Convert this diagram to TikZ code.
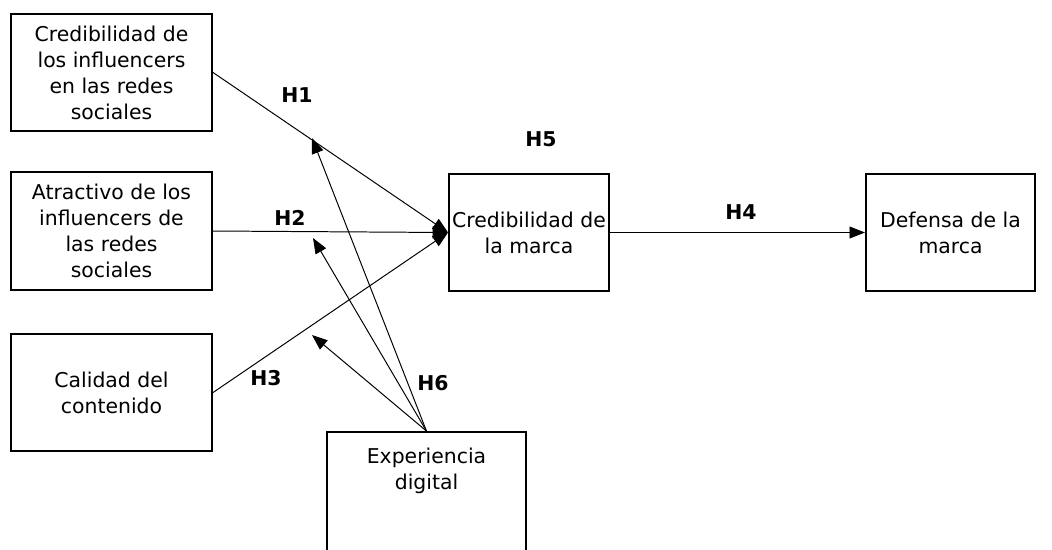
\documentclass[tikz,border=0pt]{standalone}
\usepackage{fontspec}
\setmainfont{DejaVu Sans}
\usetikzlibrary{arrows.meta}
\begin{document}
\begin{tikzpicture}[x=0.025cm,y=-0.025cm]
      \useasboundingbox (0,0) rectangle (1052,549);
      \begin{scope}[every node/.style={draw,line width=1.3pt,align=center,inner sep=2pt,
          font=\fontsize{14.5}{18.5}\selectfont}]
        \node[minimum width=5.03cm,minimum height=2.93cm] (ci) at (111.5,72.5) {Credibilidad de\\los influencers\\en las redes\\sociales};
        \node[minimum width=5.03cm,minimum height=2.93cm] (at) at (111.5,231) {Atractivo de los\\influencers de\\las redes\\sociales};
        \node[minimum width=5.03cm,minimum height=2.93cm] (ca) at (111.5,392.5) {Calidad del\\contenido};
        \node[minimum width=4cm,minimum height=2.93cm] (cm) at (529,232.5) {Credibilidad de\\la marca};
        \node[minimum width=4.23cm,minimum height=2.93cm] (dm) at (950.5,232.5) {Defensa de la\\marca};
        \node[minimum width=4.98cm,minimum height=3.05cm] (ed) at (426.5,493) {Experiencia\\digital\\[5.5mm]};
      \end{scope}
      \coordinate (t1) at (312,138);
      \coordinate (t2) at (313,238);
      \coordinate (t3) at (312,335);
      \begin{scope}[every edge/.style={draw,line width=0.7pt,-{Triangle[length=11pt,width=8.5pt]}}]
        \path (ci.east) edge (cm.west);
        \path (at.east) edge (cm.west);
        \path (ca.east) edge (cm.west);
        \path (cm.east) edge (dm.west);
        \path (ed.north) edge (t1);
        \path (ed.north) edge (t2);
        \path (ed.north) edge (t3);
      \end{scope}
      \begin{scope}[every node/.style={font=\fontsize{14.5}{16}\selectfont\bfseries}]
        \node (h1) at (297,95) {H1};
        \node (h2) at (290,218) {H2};
        \node (h3) at (266,378) {H3};
        \node (h4) at (741,212) {H4};
        \node (h5) at (541,139) {H5};
        \node (h6) at (433,383) {H6};
      \end{scope}
    \end{tikzpicture}
\end{document}
